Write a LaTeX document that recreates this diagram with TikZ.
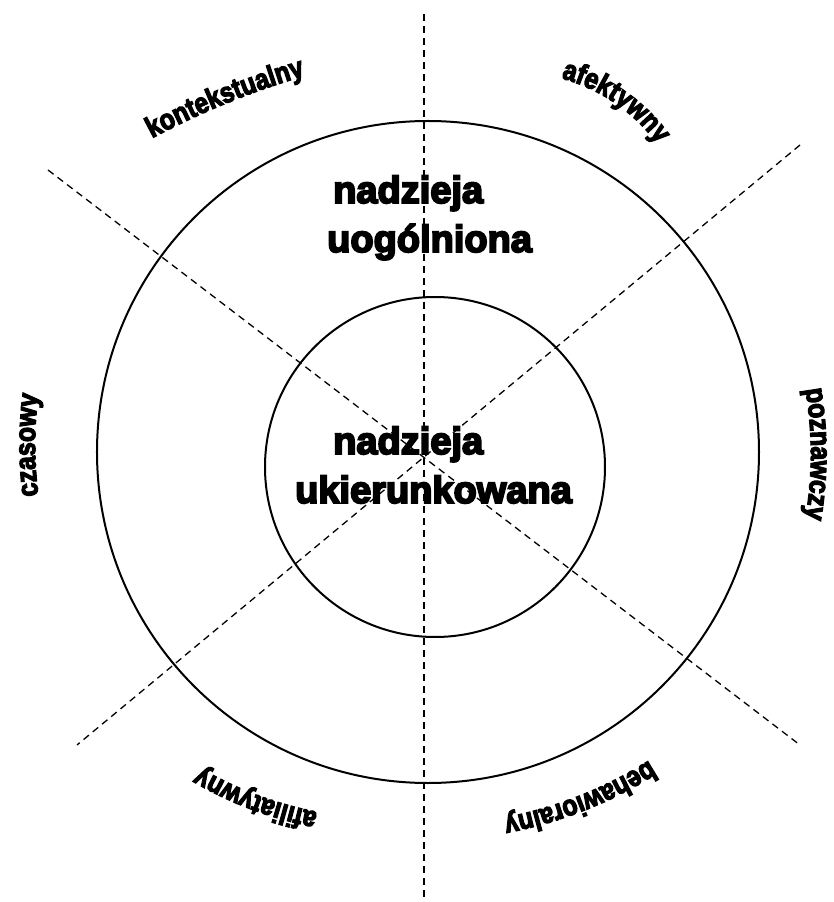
\documentclass[tikz,border=0pt]{standalone}
\usepackage{fontspec}
\usepackage{tikz}
\usetikzlibrary{decorations.text, calc}
\newfontfamily\hopefont{Liberation Sans Bold}[FakeBold=5]
\newfontfamily\facetfont{Liberation Sans Bold}[FakeBold=4, FakeStretch=0.85]

\begin{document}
\begin{tikzpicture}[
  x=1pt, y=1pt,
  ring/.style={draw, line width=2pt},
  axis/.style={draw, line width=1.3pt, dash pattern=on 7pt off 5pt},
  hope/.style={align=left, inner sep=0pt, font=\hopefont\fontsize{38}{49}\selectfont},
  facet/.style={decorate, decoration={text along path, text align=center,
    text={|\facetfont\fontsize{29}{30}\selectfont|#1}}}
]
  \useasboundingbox (-428,-450) rectangle (406,452);

  % the two rings
  \node[ring, circle, minimum size=662pt, inner sep=0pt] (outer) at (0,0) {};
  \node[ring, circle, minimum size=340pt, inner sep=0pt] (inner) at (7,-15) {};

  % dashed axes
  \coordinate (n) at (-4,438);
  \coordinate (s) at (-4,-450);
  \coordinate (nw) at (-380,282);
  \coordinate (se) at (372,-293);
  \coordinate (ne) at (372,307);
  \coordinate (sw) at (-351,-293);
  \path[axis] (n) -- (s);
  \path[axis] (nw) -- (se);
  \path[axis] (ne) -- (sw);

  % centre texts (base = last line)
  \node[hope, anchor=base west] (general) at (-101,200) {\hspace*{6pt}nadzieja\\uogólniona};
  \node[hope, anchor=base west] (directed) at (-133,-51) {\hspace*{38pt}nadzieja\\ukierunkowana};

  % facet labels, each on its own arc (mid point, outward angle, radius)
  \coordinate (ctx) at (-201,349);
  \coordinate (aff) at (187,349);
  \coordinate (cog) at (383,-2);
  \coordinate (beh) at (151,-344);
  \coordinate (afl) at (-171,-343);
  \coordinate (tmp) at (-393,7);
  \path[facet=kontekstualny] ($(ctx)+(292.2:800)+(122.2:800)$) arc[start angle=122.2, end angle=102.2, radius=800];
  \path[facet=afektywny] ($(aff)+(235.6:174)+(95.6:174)$) arc[start angle=95.6, end angle=15.6, radius=174];
  \path[facet=poznawczy] ($(cog)+(180:380)+(18:380)$) arc[start angle=18, end angle=-18, radius=380];
  \path[facet=behawioralny] ($(beh)+(111.5:420)+(308.5:420)$) arc[start angle=308.5, end angle=274.5, radius=420];
  \path[facet=afiliatywny] ($(afl)+(69.4:370)+(268.4:370)$) arc[start angle=268.4, end angle=230.4, radius=370];
  \path[facet=czasowy] ($(tmp)+(0:390)+(198:390)$) arc[start angle=198, end angle=162, radius=390];
\end{tikzpicture}
\end{document}
